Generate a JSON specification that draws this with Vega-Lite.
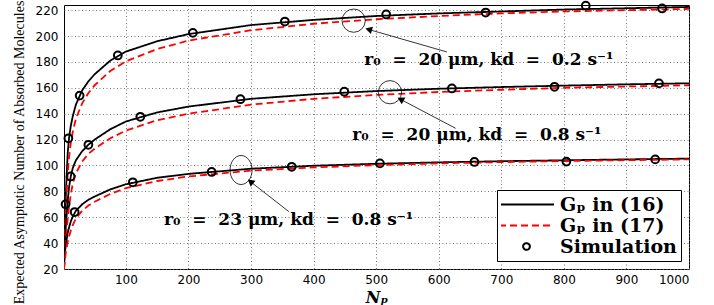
{
  "$schema": "https://vega.github.io/schema/vega-lite/v6.json",
  "width": 625,
  "height": 264,
  "autosize": {"type": "none"},
  "padding": {"left": 64, "top": 5, "right": 25, "bottom": 36},
  "background": "white",
  "config": {
    "view": {"stroke": "black", "strokeWidth": 1},
    "axis": {"labelColor": "black", "titleColor": "black"}
  },
  "datasets": {
    "curves": [
      {"N":1,"G":22,"series":"Gₚ in (16)","curve":"T16"},{"N":2,"G":45,"series":"Gₚ in (16)","curve":"T16"},{"N":3,"G":63,"series":"Gₚ in (16)","curve":"T16"},{"N":4,"G":78,"series":"Gₚ in (16)","curve":"T16"},{"N":5,"G":90,"series":"Gₚ in (16)","curve":"T16"},{"N":7,"G":110,"series":"Gₚ in (16)","curve":"T16"},{"N":9,"G":121,"series":"Gₚ in (16)","curve":"T16"},{"N":12,"G":131,"series":"Gₚ in (16)","curve":"T16"},{"N":15,"G":138,"series":"Gₚ in (16)","curve":"T16"},{"N":20,"G":147,"series":"Gₚ in (16)","curve":"T16"},{"N":30,"G":158,"series":"Gₚ in (16)","curve":"T16"},{"N":40,"G":165,"series":"Gₚ in (16)","curve":"T16"},{"N":50,"G":170.5,"series":"Gₚ in (16)","curve":"T16"},{"N":75,"G":181,"series":"Gₚ in (16)","curve":"T16"},{"N":100,"G":188,"series":"Gₚ in (16)","curve":"T16"},{"N":150,"G":196,"series":"Gₚ in (16)","curve":"T16"},{"N":200,"G":201.5,"series":"Gₚ in (16)","curve":"T16"},{"N":300,"G":208.5,"series":"Gₚ in (16)","curve":"T16"},{"N":400,"G":212.5,"series":"Gₚ in (16)","curve":"T16"},{"N":500,"G":215.5,"series":"Gₚ in (16)","curve":"T16"},{"N":600,"G":217.5,"series":"Gₚ in (16)","curve":"T16"},{"N":700,"G":219,"series":"Gₚ in (16)","curve":"T16"},{"N":800,"G":220.5,"series":"Gₚ in (16)","curve":"T16"},{"N":900,"G":221.5,"series":"Gₚ in (16)","curve":"T16"},{"N":1000,"G":222.5,"series":"Gₚ in (16)","curve":"T16"},
      {"N":1,"G":20,"series":"Gₚ in (17)","curve":"T17"},{"N":2,"G":36,"series":"Gₚ in (17)","curve":"T17"},{"N":3,"G":52,"series":"Gₚ in (17)","curve":"T17"},{"N":4,"G":65,"series":"Gₚ in (17)","curve":"T17"},{"N":5,"G":76,"series":"Gₚ in (17)","curve":"T17"},{"N":7,"G":94,"series":"Gₚ in (17)","curve":"T17"},{"N":9,"G":106,"series":"Gₚ in (17)","curve":"T17"},{"N":12,"G":118,"series":"Gₚ in (17)","curve":"T17"},{"N":15,"G":126,"series":"Gₚ in (17)","curve":"T17"},{"N":20,"G":136,"series":"Gₚ in (17)","curve":"T17"},{"N":30,"G":148,"series":"Gₚ in (17)","curve":"T17"},{"N":40,"G":156,"series":"Gₚ in (17)","curve":"T17"},{"N":50,"G":162,"series":"Gₚ in (17)","curve":"T17"},{"N":75,"G":173,"series":"Gₚ in (17)","curve":"T17"},{"N":100,"G":180.5,"series":"Gₚ in (17)","curve":"T17"},{"N":150,"G":190,"series":"Gₚ in (17)","curve":"T17"},{"N":200,"G":196.5,"series":"Gₚ in (17)","curve":"T17"},{"N":300,"G":204.5,"series":"Gₚ in (17)","curve":"T17"},{"N":400,"G":209.5,"series":"Gₚ in (17)","curve":"T17"},{"N":500,"G":213,"series":"Gₚ in (17)","curve":"T17"},{"N":600,"G":215.5,"series":"Gₚ in (17)","curve":"T17"},{"N":700,"G":217.5,"series":"Gₚ in (17)","curve":"T17"},{"N":800,"G":219,"series":"Gₚ in (17)","curve":"T17"},{"N":900,"G":220,"series":"Gₚ in (17)","curve":"T17"},{"N":1000,"G":221,"series":"Gₚ in (17)","curve":"T17"},
      {"N":1,"G":22,"series":"Gₚ in (16)","curve":"M16"},{"N":2,"G":35,"series":"Gₚ in (16)","curve":"M16"},{"N":3,"G":45,"series":"Gₚ in (16)","curve":"M16"},{"N":4,"G":53,"series":"Gₚ in (16)","curve":"M16"},{"N":5,"G":60,"series":"Gₚ in (16)","curve":"M16"},{"N":7,"G":73,"series":"Gₚ in (16)","curve":"M16"},{"N":9,"G":83,"series":"Gₚ in (16)","curve":"M16"},{"N":12,"G":92,"series":"Gₚ in (16)","curve":"M16"},{"N":15,"G":98,"series":"Gₚ in (16)","curve":"M16"},{"N":20,"G":104,"series":"Gₚ in (16)","curve":"M16"},{"N":30,"G":111,"series":"Gₚ in (16)","curve":"M16"},{"N":40,"G":116,"series":"Gₚ in (16)","curve":"M16"},{"N":50,"G":120,"series":"Gₚ in (16)","curve":"M16"},{"N":75,"G":128,"series":"Gₚ in (16)","curve":"M16"},{"N":100,"G":134,"series":"Gₚ in (16)","curve":"M16"},{"N":150,"G":141,"series":"Gₚ in (16)","curve":"M16"},{"N":200,"G":145.5,"series":"Gₚ in (16)","curve":"M16"},{"N":300,"G":151.5,"series":"Gₚ in (16)","curve":"M16"},{"N":400,"G":155,"series":"Gₚ in (16)","curve":"M16"},{"N":500,"G":157.5,"series":"Gₚ in (16)","curve":"M16"},{"N":600,"G":159.3,"series":"Gₚ in (16)","curve":"M16"},{"N":700,"G":160.6,"series":"Gₚ in (16)","curve":"M16"},{"N":800,"G":161.7,"series":"Gₚ in (16)","curve":"M16"},{"N":900,"G":162.7,"series":"Gₚ in (16)","curve":"M16"},{"N":1000,"G":163.5,"series":"Gₚ in (16)","curve":"M16"},
      {"N":1,"G":20,"series":"Gₚ in (17)","curve":"M17"},{"N":2,"G":28,"series":"Gₚ in (17)","curve":"M17"},{"N":3,"G":36,"series":"Gₚ in (17)","curve":"M17"},{"N":4,"G":43,"series":"Gₚ in (17)","curve":"M17"},{"N":5,"G":49,"series":"Gₚ in (17)","curve":"M17"},{"N":7,"G":59,"series":"Gₚ in (17)","curve":"M17"},{"N":9,"G":68,"series":"Gₚ in (17)","curve":"M17"},{"N":12,"G":78,"series":"Gₚ in (17)","curve":"M17"},{"N":15,"G":86,"series":"Gₚ in (17)","curve":"M17"},{"N":20,"G":94,"series":"Gₚ in (17)","curve":"M17"},{"N":30,"G":103,"series":"Gₚ in (17)","curve":"M17"},{"N":40,"G":109,"series":"Gₚ in (17)","curve":"M17"},{"N":50,"G":113,"series":"Gₚ in (17)","curve":"M17"},{"N":75,"G":121,"series":"Gₚ in (17)","curve":"M17"},{"N":100,"G":127,"series":"Gₚ in (17)","curve":"M17"},{"N":150,"G":135,"series":"Gₚ in (17)","curve":"M17"},{"N":200,"G":140,"series":"Gₚ in (17)","curve":"M17"},{"N":300,"G":147,"series":"Gₚ in (17)","curve":"M17"},{"N":400,"G":151.5,"series":"Gₚ in (17)","curve":"M17"},{"N":500,"G":154.5,"series":"Gₚ in (17)","curve":"M17"},{"N":600,"G":156.8,"series":"Gₚ in (17)","curve":"M17"},{"N":700,"G":158.5,"series":"Gₚ in (17)","curve":"M17"},{"N":800,"G":160,"series":"Gₚ in (17)","curve":"M17"},{"N":900,"G":161,"series":"Gₚ in (17)","curve":"M17"},{"N":1000,"G":162,"series":"Gₚ in (17)","curve":"M17"},
      {"N":1,"G":22,"series":"Gₚ in (16)","curve":"B16"},{"N":2,"G":30,"series":"Gₚ in (16)","curve":"B16"},{"N":3,"G":35,"series":"Gₚ in (16)","curve":"B16"},{"N":4,"G":39,"series":"Gₚ in (16)","curve":"B16"},{"N":5,"G":42,"series":"Gₚ in (16)","curve":"B16"},{"N":7,"G":48,"series":"Gₚ in (16)","curve":"B16"},{"N":9,"G":52,"series":"Gₚ in (16)","curve":"B16"},{"N":12,"G":57,"series":"Gₚ in (16)","curve":"B16"},{"N":15,"G":60.5,"series":"Gₚ in (16)","curve":"B16"},{"N":20,"G":65,"series":"Gₚ in (16)","curve":"B16"},{"N":30,"G":70,"series":"Gₚ in (16)","curve":"B16"},{"N":40,"G":73.5,"series":"Gₚ in (16)","curve":"B16"},{"N":50,"G":76,"series":"Gₚ in (16)","curve":"B16"},{"N":75,"G":81.5,"series":"Gₚ in (16)","curve":"B16"},{"N":100,"G":85.5,"series":"Gₚ in (16)","curve":"B16"},{"N":150,"G":90.5,"series":"Gₚ in (16)","curve":"B16"},{"N":200,"G":93.5,"series":"Gₚ in (16)","curve":"B16"},{"N":300,"G":97.5,"series":"Gₚ in (16)","curve":"B16"},{"N":400,"G":99.8,"series":"Gₚ in (16)","curve":"B16"},{"N":500,"G":101.3,"series":"Gₚ in (16)","curve":"B16"},{"N":600,"G":102.4,"series":"Gₚ in (16)","curve":"B16"},{"N":700,"G":103.3,"series":"Gₚ in (16)","curve":"B16"},{"N":800,"G":104,"series":"Gₚ in (16)","curve":"B16"},{"N":900,"G":104.7,"series":"Gₚ in (16)","curve":"B16"},{"N":1000,"G":105.3,"series":"Gₚ in (16)","curve":"B16"},
      {"N":1,"G":20,"series":"Gₚ in (17)","curve":"B17"},{"N":2,"G":25,"series":"Gₚ in (17)","curve":"B17"},{"N":3,"G":29,"series":"Gₚ in (17)","curve":"B17"},{"N":4,"G":33,"series":"Gₚ in (17)","curve":"B17"},{"N":5,"G":36,"series":"Gₚ in (17)","curve":"B17"},{"N":7,"G":41,"series":"Gₚ in (17)","curve":"B17"},{"N":9,"G":45,"series":"Gₚ in (17)","curve":"B17"},{"N":12,"G":50,"series":"Gₚ in (17)","curve":"B17"},{"N":15,"G":54,"series":"Gₚ in (17)","curve":"B17"},{"N":20,"G":59,"series":"Gₚ in (17)","curve":"B17"},{"N":30,"G":65,"series":"Gₚ in (17)","curve":"B17"},{"N":40,"G":69,"series":"Gₚ in (17)","curve":"B17"},{"N":50,"G":72,"series":"Gₚ in (17)","curve":"B17"},{"N":75,"G":78,"series":"Gₚ in (17)","curve":"B17"},{"N":100,"G":82.5,"series":"Gₚ in (17)","curve":"B17"},{"N":150,"G":88,"series":"Gₚ in (17)","curve":"B17"},{"N":200,"G":91.5,"series":"Gₚ in (17)","curve":"B17"},{"N":300,"G":96,"series":"Gₚ in (17)","curve":"B17"},{"N":400,"G":98.5,"series":"Gₚ in (17)","curve":"B17"},{"N":500,"G":100.3,"series":"Gₚ in (17)","curve":"B17"},{"N":600,"G":101.6,"series":"Gₚ in (17)","curve":"B17"},{"N":700,"G":102.6,"series":"Gₚ in (17)","curve":"B17"},{"N":800,"G":103.4,"series":"Gₚ in (17)","curve":"B17"},{"N":900,"G":104.1,"series":"Gₚ in (17)","curve":"B17"},{"N":1000,"G":104.7,"series":"Gₚ in (17)","curve":"B17"}
    ],
    "sim": [
      {"N":3.5,"G":70,"series":"Simulation"},{"N":8,"G":121,"series":"Simulation"},{"N":26,"G":154,"series":"Simulation"},{"N":87,"G":185,"series":"Simulation"},{"N":207,"G":202.5,"series":"Simulation"},{"N":354,"G":211.2,"series":"Simulation"},{"N":516,"G":216.7,"series":"Simulation"},{"N":675,"G":218.2,"series":"Simulation"},{"N":835,"G":223.5,"series":"Simulation"},{"N":957,"G":221.3,"series":"Simulation"},
      {"N":11.5,"G":91.5,"series":"Simulation"},{"N":40,"G":116,"series":"Simulation"},{"N":123,"G":137.6,"series":"Simulation"},{"N":283,"G":151.2,"series":"Simulation"},{"N":449,"G":157,"series":"Simulation"},{"N":621,"G":159.5,"series":"Simulation"},{"N":785,"G":160.8,"series":"Simulation"},{"N":952,"G":163.4,"series":"Simulation"},
      {"N":18,"G":64,"series":"Simulation"},{"N":111,"G":87,"series":"Simulation"},{"N":237,"G":95,"series":"Simulation"},{"N":365,"G":99,"series":"Simulation"},{"N":506,"G":101.6,"series":"Simulation"},{"N":657,"G":102.7,"series":"Simulation"},{"N":804,"G":103,"series":"Simulation"},{"N":946,"G":104.7,"series":"Simulation"}
    ],
    "arrows": [
      {"id":"top","N":613,"G":187.7,"N2":488,"G2":205.1},
      {"id":"mid","N":627,"G":128.7,"N2":539,"G2":151.1},
      {"id":"bot","N":360.5,"G":64.3,"N2":299,"G2":87.5}
    ],
    "labels": [
      {"N":680,"G":181.5,"text":"r₀\u00a0\u00a0=\u00a0\u00a020\u00a0μm,\u00a0kd\u00a0\u00a0=\u00a0\u00a00.2\u00a0s⁻¹"},
      {"N":661,"G":123.6,"text":"r₀\u00a0\u00a0=\u00a0\u00a020\u00a0μm,\u00a0kd\u00a0\u00a0=\u00a0\u00a00.8\u00a0s⁻¹"},
      {"N":360,"G":57.9,"text":"r₀\u00a0\u00a0=\u00a0\u00a023\u00a0μm,\u00a0kd\u00a0\u00a0=\u00a0\u00a00.8\u00a0s⁻¹"}
    ]
  },
  "encoding": {
    "x": {
      "field": "N", "type": "quantitative",
      "scale": {"domain": [1, 1000], "nice": false, "zero": false},
      "axis": {
        "values": [100,200,300,400,500,600,700,800,900,1000], "format": "d",
        "title": "Nₚ", "titleFont": "DejaVu Serif", "titleFontStyle": "italic", "titleFontWeight": "bold", "titleFontSize": 16,
        "labelFont": "DejaVu Sans", "labelFontSize": 12, "labelPadding": 5, "titlePadding": 4,
        "ticks": false, "domain": false, "grid": true, "gridColor": "#666", "gridDash": [1, 2.5], "gridWidth": 0.9
      }
    },
    "y": {
      "field": "G", "type": "quantitative",
      "scale": {"domain": [20, 224], "nice": false, "zero": false},
      "axis": {
        "values": [20,40,60,80,100,120,140,160,180,200,220],
        "title": "Expected Asymptotic Number of Absorbed Molecules",
        "titleFont": "Liberation Serif", "titleFontWeight": "normal", "titleFontSize": 14, "titlePadding": 9, "titleY": 147,
        "labelFont": "DejaVu Sans", "labelFontSize": 12, "labelPadding": 6,
        "ticks": false, "domain": false, "grid": true, "gridColor": "#666", "gridDash": [1, 2.5], "gridWidth": 0.9
      }
    }
  },
  "layer": [
    {
      "data": {"name": "curves"},
      "mark": {"type": "line", "strokeWidth": 1.8, "clip": true},
      "encoding": {
        "color": {
          "field": "series", "type": "nominal",
          "scale": {"domain": ["Gₚ in (16)", "Gₚ in (17)", "Simulation"], "range": ["black", "#ff0000", "black"]},
          "legend": {
            "title": null, "orient": "bottom-right", "offset": 8,
            "fillColor": "white", "strokeColor": "black", "padding": 4,
            "labelFont": "DejaVu Serif", "labelFontWeight": "bold", "labelFontSize": 19, "labelColor": "black",
            "symbolSize": 3025, "clipHeight": 21, "rowPadding": 0, "labelOffset": 24, "symbolOffset": 16,
            "encode": {
              "symbols": {
                "update": {
                  "shape": {"signal": "datum.index === 2 ? 'circle' : 'stroke'"},
                  "size": {"signal": "datum.index === 2 ? 45 : 3025"},
                  "strokeDash": {"signal": "datum.index === 1 ? [7, 4] : [1, 0]"},
                  "fill": {"value": "transparent"},
                  "strokeWidth": {"signal": "datum.index === 2 ? 2 : 1.8"},
                  "stroke": {"signal": "datum.index === 1 ? '#ff0000' : 'black'"},
                  "opacity": {"value": 1}
                }
              }
            }
          }
        },
        "strokeDash": {
          "field": "series", "type": "nominal",
          "scale": {"domain": ["Gₚ in (16)", "Gₚ in (17)"], "range": [[1, 0], [7, 4]]},
          "legend": null
        },
        "detail": {"field": "curve"}
      }
    },
    {
      "data": {"name": "sim"},
      "mark": {"type": "point", "shape": "circle", "filled": false, "size": 60, "strokeWidth": 2, "opacity": 1},
      "encoding": {
        "color": {
          "field": "series", "type": "nominal",
          "scale": {"domain": ["Gₚ in (16)", "Gₚ in (17)", "Simulation"], "range": ["black", "#ff0000", "black"]}
        }
      }
    },
    {
      "data": {"values": [{"N": 464, "G": 211.9}, {"N": 522, "G": 156.6}]},
      "mark": {"type": "point", "shape": "circle", "filled": false, "size": 540, "stroke": "black", "strokeWidth": 0.8, "opacity": 1}
    },
    {
      "data": {"values": [{"N": 284, "G": 96.5}]},
      "mark": {"type": "point", "shape": "M -0.76 0 A 0.76 1 0 1 0 0.76 0 A 0.76 1 0 1 0 -0.76 0 Z", "filled": false, "size": 841, "stroke": "black", "strokeWidth": 0.8, "opacity": 1}
    },
    {
      "data": {"name": "arrows"},
      "mark": {"type": "rule", "stroke": "black", "strokeWidth": 0.8},
      "encoding": {"x2": {"field": "N2"}, "y2": {"field": "G2"}}
    },
    {
      "data": {"name": "arrows"},
      "transform": [{"filter": "datum.id === 'top'"}],
      "mark": {"type": "point", "shape": "triangle-right", "filled": true, "color": "black", "size": 60, "angle": 196, "opacity": 1},
      "encoding": {"x": {"field": "N2", "type": "quantitative"}, "y": {"field": "G2", "type": "quantitative"}}
    },
    {
      "data": {"name": "arrows"},
      "transform": [{"filter": "datum.id === 'mid'"}],
      "mark": {"type": "point", "shape": "triangle-right", "filled": true, "color": "black", "size": 60, "angle": 208, "opacity": 1},
      "encoding": {"x": {"field": "N2", "type": "quantitative"}, "y": {"field": "G2", "type": "quantitative"}}
    },
    {
      "data": {"name": "arrows"},
      "transform": [{"filter": "datum.id === 'bot'"}],
      "mark": {"type": "point", "shape": "triangle-right", "filled": true, "color": "black", "size": 60, "angle": 218, "opacity": 1},
      "encoding": {"x": {"field": "N2", "type": "quantitative"}, "y": {"field": "G2", "type": "quantitative"}}
    },
    {
      "data": {"name": "labels"},
      "mark": {"type": "text", "font": "DejaVu Serif", "fontWeight": "bold", "fontSize": 17, "color": "black", "align": "center", "baseline": "middle"},
      "encoding": {"text": {"field": "text"}}
    }
  ]
}
